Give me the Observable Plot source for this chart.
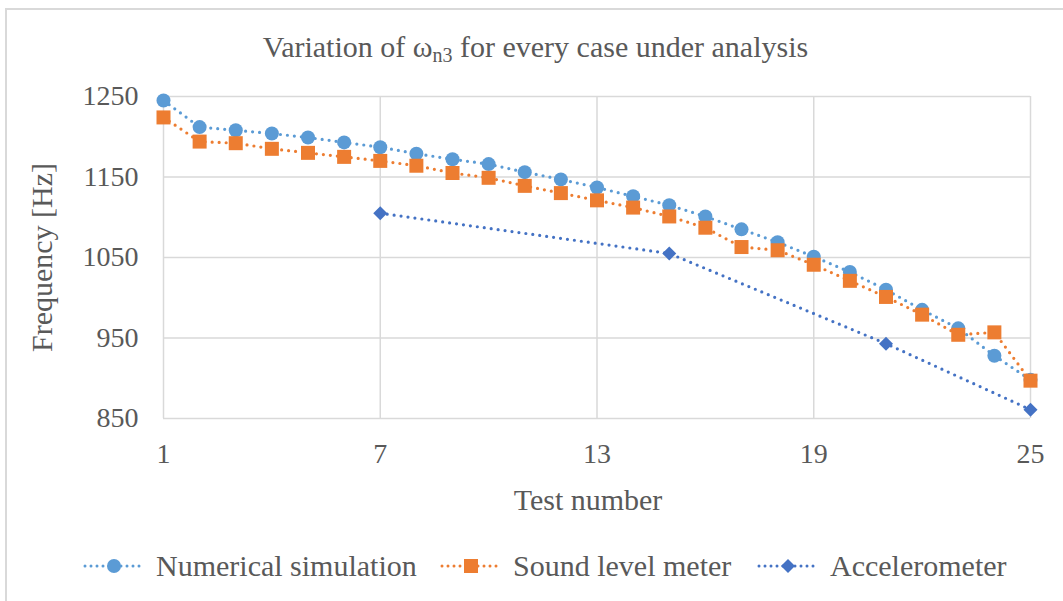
<!DOCTYPE html>
<html>
<head>
<meta charset="utf-8">
<script src="https://cdn.jsdelivr.net/npm/d3@7"></script>
<script src="https://cdn.jsdelivr.net/npm/@observablehq/plot@0.6"></script>
<style>
  html, body { margin: 0; padding: 0; background: #fff; }
  body { width: 1063px; height: 601px; overflow: hidden; position: relative; font-family: "Liberation Serif", "Times New Roman", serif; color: #595959; }
  #frame { position: absolute; left: 5px; top: 8px; width: 1200px; height: 800px; border-left: 2px solid #d9d9d9; border-top: 2px solid #d9d9d9; box-sizing: border-box; pointer-events: none; }
  #title { position: relative; height: 80px; line-height: 94px; text-align: center; font-size: 30px; padding-left: 8px; box-sizing: border-box; }
  #title sub { font-size: 20px; vertical-align: -5px; line-height: 0; }
  #chart { position: relative; height: 450px; }
  #chart svg { display: block; }
  #legend { position: relative; height: 71px; }
  .item { position: absolute; top: 18px; height: 36px; display: flex; align-items: center; font-size: 30px; white-space: nowrap; }
  .item svg { margin-right: 11px; }
</style>
</head>
<body>
<div id="frame"></div>
<div id="title">Variation of ω<sub>n3</sub> for every case under analysis</div>
<div id="chart"></div>
<div id="legend"></div>
<script>
// ---- data ----
const tests = [1,2,3,4,5,6,7,8,9,10,11,12,13,14,15,16,17,18,19,20,21,22,23,24,25];
const numerical = [1245,1212,1208,1204,1199,1193,1187,1179,1172,1166,1156,1147,1137,1126,1115,1101,1085,1069,1051,1032,1010,985,962,928,898];
const soundLevel = [1224,1194,1192,1185,1180,1175,1170,1164,1155,1149,1139,1130,1121,1112,1101,1087,1063,1059,1041,1021,1001,979,954,957,897];
const accelTests = [7,15,21,25];
const accelerometer = [1105,1055,943,861];
const xTicks = [1,7,13,19,25];
const yTicks = [850,950,1050,1150,1250];
const seriesNames = ["Numerical simulation","Sound level meter","Accelerometer"];
const seriesColors = ["#5B9BD5","#ED7D31","#4472C4"];

const numData = tests.map((t,i)=>({x:t, y:numerical[i]}));
const soundData = tests.map((t,i)=>({x:t, y:soundLevel[i]}));
const accData = accelTests.map((t,i)=>({x:t, y:accelerometer[i]}));

const dotted = {strokeWidth: 3.2, strokeDasharray: "0 7", strokeLinecap: "round"};
const fmt = d => String(d);

const plot = Plot.plot({
  width: 1063,
  height: 450,
  marginLeft: 163,
  marginRight: 33,
  marginTop: 16,
  marginBottom: 112,
  style: {fontFamily: "Liberation Serif", fontSize: "28px", color: "#595959", background: "transparent", overflow: "visible"},
  x: {domain: [1,25]},
  y: {domain: [850,1250]},
  marks: [
    Plot.gridX(xTicks, {stroke: "#d9d9d9", strokeOpacity: 1, strokeWidth: 1.5}),
    Plot.gridY(yTicks, {stroke: "#d9d9d9", strokeOpacity: 1, strokeWidth: 1.5}),
    Plot.axisX(xTicks, {tickSize: 0, tickPadding: 25, label: null, tickFormat: fmt}),
    Plot.axisY(yTicks, {tickSize: 0, tickPadding: 25, label: null, tickFormat: fmt}),
    Plot.text(["Test number"], {frameAnchor: "bottom", dy: 91, dx: -9, fontSize: 30}),
    Plot.text(["Frequency [Hz]"], {frameAnchor: "left", textAnchor: "middle", dx: -121, rotate: -90, fontSize: 30}),
    Plot.line(numData, {x: "x", y: "y", stroke: seriesColors[0], ...dotted}),
    Plot.dot(numData, {x: "x", y: "y", symbol: "circle", r: 7, fill: seriesColors[0]}),
    Plot.line(soundData, {x: "x", y: "y", stroke: seriesColors[1], ...dotted}),
    Plot.dot(soundData, {x: "x", y: "y", symbol: "square", r: 7.9, fill: seriesColors[1]}),
    Plot.line(accData, {x: "x", y: "y", stroke: seriesColors[2], ...dotted}),
    Plot.dot(accData, {x: "x", y: "y", symbol: "diamond2", r: 6.3, fill: seriesColors[2]})
  ]
});
document.getElementById("chart").appendChild(plot);

// ---- legend ----
const legend = document.getElementById("legend");
const lefts = [83, 440, 757];
const markers = [
  c => `<circle cx="31" cy="10" r="7" fill="${c}"/>`,
  c => `<rect x="24" y="3" width="14" height="14" fill="${c}"/>`,
  c => `<path d="M31 3 L38 10 L31 17 L24 10 Z" fill="${c}"/>`
];
seriesNames.forEach((name, i) => {
  const div = document.createElement("div");
  div.className = "item";
  div.style.left = lefts[i] + "px";
  const c = seriesColors[i];
  div.innerHTML = `<svg width="62" height="20"><line x1="2" y1="10" x2="60" y2="10" stroke="${c}" stroke-width="3" stroke-dasharray="0 6" stroke-linecap="round"/>${markers[i](c)}</svg><span>${name}</span>`;
  legend.appendChild(div);
});
</script>
</body>
</html>
